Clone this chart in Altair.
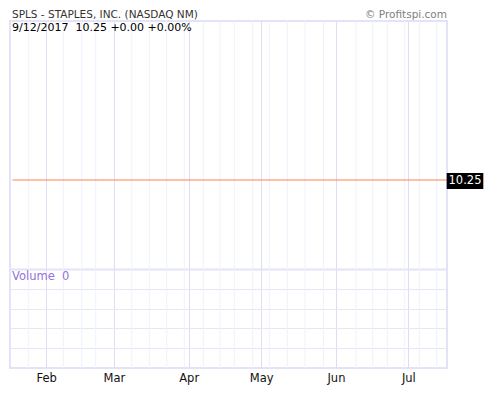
import altair as alt
import pandas as pd

# ---------------- data ----------------
title_text = ["SPLS - STAPLES, INC. (NASDAQ NM)"]
credit_text = ["\u00a9 Profitspi.com"]
info_text = ["9/12/2017\u00a0\u00a010.25 +0.00 +0.00%"]
volume_text = ["Volume\u00a0\u00a00"]

price_dates = ["2017-01-18T00:00:00Z", "2017-07-17T00:00:00Z"]
price_close = [10.25, 10.25]
price_volume = [0, 0]
last_label = ["10.25"]

month_ticks = [(2017, 2, 1), (2017, 3, 1), (2017, 4, 1), (2017, 5, 1), (2017, 6, 1), (2017, 7, 1)]
x_start = (2017, 1, 17)
x_end = (2017, 7, 17)

week_lines = [
    "2017-01-24T14:00:00Z", "2017-02-08T02:00:00Z", "2017-02-15T17:00:00Z",
    "2017-02-21T12:00:00Z", "2017-03-08T10:00:00Z", "2017-03-15T17:00:00Z",
    "2017-03-22T22:00:00Z", "2017-03-30T05:00:00Z", "2017-04-07T02:00:00Z",
    "2017-04-14T00:00:00Z", "2017-04-19T22:00:00Z", "2017-04-27T13:00:00Z",
    "2017-05-04T10:00:00Z", "2017-05-11T21:00:00Z", "2017-05-19T05:00:00Z",
    "2017-05-26T19:00:00Z", "2017-06-09T08:00:00Z", "2017-06-16T06:00:00Z",
    "2017-06-22T07:00:00Z", "2017-06-29T08:00:00Z", "2017-07-05T13:00:00Z",
    "2017-07-12T18:00:00Z",
]

price_domain = [9.0, 11.307]
volume_domain = [0, 17.525]
volume_grid = [1, 2, 3, 4, 5]
volume_pane_top = 5

# ---------------- styling ----------------
FONT = "Verdana, DejaVu Sans"
FS = 11.5
FS_HEAD = 10.5
FS_INFO = 11
BORDER = "#E3E3F8"
MONTH_GRID = "#E0DCF2"
WEEK_GRID = "#EEF2FC"
HGRID = "#E6E6F6"
LINE = "#FF7F50"

def dt(t):
    return alt.DateTime(year=t[0], month=t[1], date=t[2], utc=True)

x_scale = alt.Scale(type="utc", domain=[dt(x_start), dt(x_end)], nice=False, padding=0)
month_values = [dt(t) for t in month_ticks]
price_scale = alt.Scale(domain=price_domain, nice=False, zero=False, padding=0)
vol_scale = alt.Scale(domain=volume_domain, nice=False, padding=0)

W = 437
H = 347

x_axis = alt.Axis(values=month_values, grid=True, gridColor=MONTH_GRID, gridWidth=1,
                  labels=True, labelExpr="utcFormat(datum.value, '%b')",
                  labelFont=FONT, labelFontSize=FS, labelColor="#111111",
                  labelPadding=4, labelBaseline="top",
                  ticks=False, domain=False, title=None)

vol_axis = alt.Axis(values=volume_grid, grid=True,
                    gridColor={"condition": {"test": f"datum.value === {volume_pane_top}", "value": BORDER},
                               "value": HGRID},
                    gridWidth={"condition": {"test": f"datum.value === {volume_pane_top}", "value": 2},
                               "value": 1},
                    labels=False, ticks=False, domain=False, title=None)

price_df = pd.DataFrame({"date": price_dates, "close": price_close, "volume": price_volume})
last_df = price_df.tail(1).assign(label=last_label)
week_df = pd.DataFrame({"d": week_lines})

# ---------------- layers ----------------
week_rules = alt.Chart(week_df).mark_rule(color=WEEK_GRID, strokeWidth=1).encode(
    x=alt.X("d:T", scale=x_scale, axis=x_axis)
)

vol_bars = alt.Chart(price_df).mark_bar(color="#9370DB").encode(
    x=alt.X("date:T", scale=x_scale, axis=x_axis),
    y=alt.Y("volume:Q", scale=vol_scale, axis=vol_axis),
)

price_line = alt.Chart(price_df).mark_line(color=LINE, strokeWidth=1).encode(
    x=alt.X("date:T", scale=x_scale, axis=x_axis),
    y=alt.Y("close:Q", scale=price_scale, axis=None),
)

box = alt.Chart(last_df).mark_point(
    shape="M-2.29,-1H2.29V1H-2.29Z", size=256, filled=True, color="black", opacity=1,
    xOffset=18, yOffset=1,
).encode(
    x=alt.X("date:T", scale=x_scale, axis=x_axis),
    y=alt.Y("close:Q", scale=price_scale, axis=None),
)

box_text = alt.Chart(last_df).mark_text(
    color="white", font=FONT, fontSize=FS, align="center", baseline="middle", dx=18, dy=1,
).encode(
    x=alt.X("date:T", scale=x_scale, axis=x_axis),
    y=alt.Y("close:Q", scale=price_scale, axis=None),
    text="label:N",
)

title_mark = alt.Chart(pd.DataFrame({"t": title_text})).mark_text(
    align="left", baseline="alphabetic", font=FONT, fontSize=FS_HEAD, color="#333333",
).encode(x=alt.value(2), y=alt.value(-3), text="t:N")

credit_mark = alt.Chart(pd.DataFrame({"t": credit_text})).mark_text(
    align="right", baseline="alphabetic", font=FONT, fontSize=FS_HEAD, color="#808080",
).encode(x=alt.value(W), y=alt.value(-3), text="t:N")

info_mark = alt.Chart(pd.DataFrame({"t": info_text})).mark_text(
    align="left", baseline="alphabetic", font=FONT, fontSize=FS_INFO, color="#000000",
).encode(x=alt.value(2), y=alt.value(10), text="t:N")

vol_mark = alt.Chart(pd.DataFrame({"t": volume_text})).mark_text(
    align="left", baseline="alphabetic", font=FONT, fontSize=FS, color="#9370DB",
).encode(x=alt.value(2), y=alt.value(259), text="t:N")

chart = (
    alt.layer(week_rules, vol_bars, price_line, box, box_text,
              title_mark, credit_mark, info_mark, vol_mark)
    .resolve_scale(y="independent")
    .properties(
        width=W, height=H,
        autosize=alt.AutoSizeParams(type="none"),
        padding={"left": 2, "top": 13, "right": 45, "bottom": 18},
    )
    .configure(font=FONT)
    .configure_view(stroke=BORDER, strokeWidth=2)
)

chart.save("out.html", embed_options={"renderer": "svg", "actions": False})
